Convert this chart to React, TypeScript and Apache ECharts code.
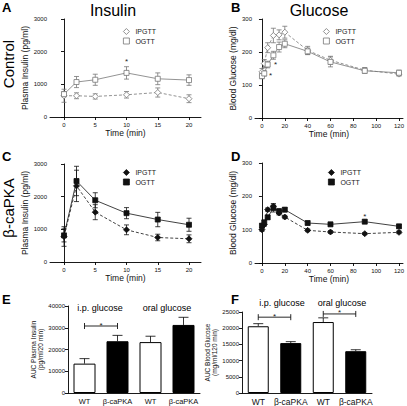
import React, { useEffect, useRef } from "react";
import * as echarts from "echarts";

const insulinTimes = [0, 2, 5, 10, 15, 20];
const glucoseTimes = [0, 2, 5, 10, 15, 20, 40, 60, 90, 120];
const insulinTicks = [0, 5, 10, 15, 20];
const glucoseTicks = [0, 20, 40, 60, 80, 100, 120];

const ctrlInsIP = [650, 650, 630, 680, 750, 560];
const ctrlInsIPErr = [200, 90, 80, 100, 140, 120];
const ctrlInsOG = [700, 1070, 1140, 1350, 1170, 1130];
const ctrlInsOGErr = [80, 170, 170, 190, 180, 160];

const ctrlGluIP = [140, 165, 213, 250, 252, 260, 205, 175, 145, 133];
const ctrlGluIPErr = [10, 12, 15, 22, 15, 18, 12, 12, 8, 6];
const ctrlGluOG = [127, 135, 162, 190, 215, 225, 202, 170, 143, 137];
const ctrlGluOGErr = [8, 8, 10, 12, 15, 12, 10, 15, 8, 8];

const pkaInsIP = [780, 2330, 1525, 985, 750, 710];
const pkaInsIPErr = [300, 480, 230, 150, 100, 120];
const pkaInsOG = [815, 2480, 1890, 1495, 1300, 1140];
const pkaInsOGErr = [200, 450, 230, 170, 220, 200];

const pkaGluIP = [100, 115, 160, 170, 150, 138, 98, 93, 88, 92];
const pkaGluIPErr = [5, 5, 5, 8, 6, 5, 4, 4, 3, 4];
const pkaGluOG = [112, 122, 137, 165, 155, 160, 120, 116, 124, 110];
const pkaGluOGErr = [6, 6, 6, 12, 8, 6, 5, 5, 5, 5];

const barCategories = ["WT", "β-caPKA", "WT", "β-caPKA"];
const groupLabels = ["i.p. glucose", "oral glucose"];
const aucInsulin = [13500, 23800, 23400, 31300];
const aucInsulinErr = [2300, 2700, 2700, 3500];
const aucGlucose = [20600, 15400, 21900, 12900];
const aucGlucoseErr = [800, 450, 1300, 450];

// significance asterisks on line panels: [x, y]
const starsA = [[10, 1700]];
const starsB = [[7.5, 128], [12, 162]];
const starsD = [[90, 140]];
// brackets [fromIndex, toIndex, y]
const bracketsE = [[0, 1, 30800]];
const bracketsF = [[0, 1, 23400], [2, 3, 24400]];

const FONT = "'Liberation Sans', Arial, Helvetica, sans-serif";
const GRAY = "#777";
const BLACK = "#111";

function errRender(color: string, capW: number) {
  return (params: any, api: any) => {
    const x = api.value(0);
    const lo = api.value(1);
    const hi = api.value(2);
    const lowCap = api.value(3);
    const a = api.coord([x, lo]);
    const b = api.coord([x, hi]);
    const style = { stroke: color, lineWidth: 0.8, fill: "none" };
    const children: any[] = [
      { type: "line", shape: { x1: a[0], y1: a[1], x2: b[0], y2: b[1] }, style },
      { type: "line", shape: { x1: b[0] - capW, y1: b[1], x2: b[0] + capW, y2: b[1] }, style },
    ];
    if (lowCap) {
      children.push({ type: "line", shape: { x1: a[0] - capW, y1: a[1], x2: a[0] + capW, y2: a[1] }, style });
    }
    return { type: "group", children };
  };
}

function starRender(params: any, api: any) {
  const p = api.coord([api.value(0), api.value(1)]);
  return {
    type: "text",
    style: { text: "*", x: p[0], y: p[1], align: "center", verticalAlign: "middle", fontSize: 8, fill: "#222", fontFamily: FONT },
  };
}

function bracketRender(params: any, api: any) {
  const a = api.coord([api.value(0), api.value(2)]);
  const b = api.coord([api.value(1), api.value(2)]);
  const style = { stroke: "#111", lineWidth: 0.9 };
  return {
    type: "group",
    children: [
      { type: "line", shape: { x1: a[0], y1: a[1], x2: b[0], y2: b[1] }, style },
      { type: "line", shape: { x1: a[0], y1: a[1] - 3, x2: a[0], y2: a[1] + 3 }, style },
      { type: "line", shape: { x1: b[0], y1: b[1] - 3, x2: b[0], y2: b[1] + 3 }, style },
      {
        type: "text",
        style: { text: "*", x: (a[0] + b[0]) / 2, y: a[1] + 3, align: "center", verticalAlign: "bottom", fontSize: 8, fill: "#222", fontFamily: FONT },
      },
    ],
  };
}

function lineSeries(grid: number, times: number[], ip: number[], ipErr: number[], og: number[], ogErr: number[], color: string, filled: boolean) {
  const fill = filled ? color : "#fff";
  const common = {
    type: "line",
    xAxisIndex: grid,
    yAxisIndex: grid,
    z: 3,
    symbolKeepAspect: true,
  };
  return [
    {
      type: "custom",
      xAxisIndex: grid,
      yAxisIndex: grid,
      z: 1,
      renderItem: errRender(color, 2.5),
      encode: { x: 0, y: [1, 2] },
      data: times.map((t, i) => [t, ip[i] - ipErr[i], ip[i] + ipErr[i], 1]),
    },
    {
      type: "custom",
      xAxisIndex: grid,
      yAxisIndex: grid,
      z: 1,
      renderItem: errRender(color, 2.5),
      encode: { x: 0, y: [1, 2] },
      data: times.map((t, i) => [t, og[i] - ogErr[i], og[i] + ogErr[i], 1]),
    },
    {
      ...common,
      name: "IPGTT",
      symbol: "diamond",
      symbolSize: 6,
      lineStyle: { color, width: 0.8, type: [3, 2] },
      itemStyle: { color: fill, borderColor: color, borderWidth: 0.8 },
      data: times.map((t, i) => [t, ip[i]]),
    },
    {
      ...common,
      name: "OGTT",
      symbol: "rect",
      symbolSize: 5,
      lineStyle: { color, width: 0.8 },
      itemStyle: { color: fill, borderColor: color, borderWidth: 0.8 },
      data: times.map((t, i) => [t, og[i]]),
    },
  ];
}

function barSeries(grid: number, vals: number[], errs: number[], width: number) {
  return [
    {
      type: "bar",
      xAxisIndex: grid,
      yAxisIndex: grid,
      barWidth: width,
      z: 2,
      data: vals.map((v, i) => ({
        value: v,
        itemStyle: { color: i % 2 === 0 ? "#fff" : "#000", borderColor: "#000", borderWidth: 1 },
      })),
    },
    {
      type: "custom",
      xAxisIndex: grid,
      yAxisIndex: grid,
      z: 1,
      renderItem: errRender("#000", 5),
      encode: { x: 0, y: [1, 2] },
      data: vals.map((v, i) => [i, v, v + errs[i], 0]),
    },
  ];
}

const axisLineStyle = { lineStyle: { color: "#000", width: 0.9 } };
const tickStyle = { show: true, length: 3, lineStyle: { color: "#000", width: 0.9 } };
const tickLabel = { fontSize: 6, color: "#111", fontFamily: FONT, margin: 3 };

function timeAxis(grid: number, min: number, max: number, ticks: number[], gap: number) {
  return {
    type: "value",
    gridIndex: grid,
    min,
    max,
    name: "Time (min)",
    nameLocation: "middle",
    nameGap: gap,
    nameTextStyle: { fontSize: 8.5, color: "#111", fontFamily: FONT },
    axisLine: { show: true, onZero: false, ...axisLineStyle },
    axisTick: { ...tickStyle, customValues: ticks },
    axisLabel: { ...tickLabel, margin: 5, customValues: ticks },
    splitLine: { show: false },
  };
}

function valAxis(grid: number, max: number, interval: number, name: string, gap: number, nameSize: number, lineHeight?: number) {
  return {
    type: "value",
    gridIndex: grid,
    min: 0,
    max,
    interval,
    name,
    nameLocation: "middle",
    nameGap: gap,
    nameTextStyle: { fontSize: nameSize, color: "#111", fontFamily: FONT, lineHeight: lineHeight || nameSize * 1.2 },
    axisLine: { show: true, ...axisLineStyle },
    axisTick: tickStyle,
    axisLabel: { ...tickLabel, formatter: (v: number) => String(v) },
    splitLine: { show: false },
  };
}

function catAxis(grid: number, fontSize: number) {
  return {
    type: "category",
    gridIndex: grid,
    data: barCategories,
    axisLine: { show: true, ...axisLineStyle },
    axisTick: { show: false },
    axisLabel: { fontSize, color: "#111", fontFamily: FONT, margin: 4, interval: 0 },
  };
}

function legendAt(left: number, top: number, color: string, filled: boolean) {
  const fill = filled ? color : "#fff";
  return {
    left,
    top,
    orient: "vertical",
    padding: 0,
    itemWidth: 6,
    itemHeight: 6,
    itemGap: 2.5,
    selectedMode: false,
    textStyle: { fontSize: 7, color: "#222", fontFamily: FONT, padding: [0, 0, 0, 1] },
    data: [
      { name: "IPGTT", icon: "diamond", itemStyle: { color: fill, borderColor: color, borderWidth: 0.8 } },
      { name: "OGTT", icon: "rect", itemStyle: { color: fill, borderColor: color, borderWidth: 0.8 } },
    ],
  };
}

function txt(text: string, x: number, y: number, size: number, opts: any = {}) {
  return {
    type: "text",
    x,
    y,
    rotation: opts.rotation || 0,
    style: {
      text,
      fontSize: size,
      fontWeight: opts.bold ? "bold" : "normal",
      fontFamily: FONT,
      fill: "#000",
      align: opts.align || "center",
      verticalAlign: "middle",
    },
  };
}

export default function App() {
  const ref = useRef<HTMLDivElement>(null);
  useEffect(() => {
    document.body.style.margin = "0";
    const chart = echarts.init(ref.current!, undefined, { renderer: "svg" });
    const option: any = {
      animation: false,
      backgroundColor: "#fff",
      textStyle: { fontFamily: FONT },
      grid: [
        { left: 50, top: 19, width: 151, height: 98 },
        { left: 255, top: 19, width: 148, height: 99 },
        { left: 50, top: 164, width: 151, height: 98 },
        { left: 255, top: 163, width: 148, height: 100 },
        { left: 68, top: 306, width: 132, height: 87 },
        { left: 242, top: 312, width: 130, height: 81 },
      ],
      xAxis: [
        timeAxis(0, -2.24, 21.92, insulinTicks, 11),
        timeAxis(1, -6.1, 123.5, glucoseTicks, 10),
        timeAxis(2, -2.24, 21.92, insulinTicks, 10),
        timeAxis(3, -6.1, 123.5, glucoseTicks, 10),
        catAxis(4, 7.5),
        catAxis(5, 8.5),
      ],
      yAxis: [
        valAxis(0, 3000, 1000, "Plasma Insulin (pg/ml)", 13, 8.5),
        valAxis(1, 300, 100, "Blood Glucose (mg/dl)", 15, 8.5),
        valAxis(2, 3000, 1000, "Plasma Insulin (pg/ml)", 13, 8.5),
        valAxis(3, 300, 100, "Blood Glucose (mg/dl)", 15, 8.5),
        valAxis(4, 40000, 10000, "AUC Plasma Insulin\n(pg/ml/20 min)", 22, 6.5, 7),
        valAxis(5, 25000, 5000, "AUC Blood Glucose\n(mg/ml/120 min)", 22, 6.5, 7),
      ],
      legend: [
        legendAt(123, 28, GRAY, false),
        legendAt(323, 28, GRAY, false),
        legendAt(123, 169, BLACK, true),
        legendAt(328, 169, BLACK, true),
      ],
      series: [
        ...lineSeries(0, insulinTimes, ctrlInsIP, ctrlInsIPErr, ctrlInsOG, ctrlInsOGErr, GRAY, false),
        ...lineSeries(1, glucoseTimes, ctrlGluIP, ctrlGluIPErr, ctrlGluOG, ctrlGluOGErr, GRAY, false),
        ...lineSeries(2, insulinTimes, pkaInsIP, pkaInsIPErr, pkaInsOG, pkaInsOGErr, BLACK, true),
        ...lineSeries(3, glucoseTimes, pkaGluIP, pkaGluIPErr, pkaGluOG, pkaGluOGErr, BLACK, true),
        ...barSeries(4, aucInsulin, aucInsulinErr, 22),
        ...barSeries(5, aucGlucose, aucGlucoseErr, 21),
        { type: "custom", xAxisIndex: 0, yAxisIndex: 0, z: 4, renderItem: starRender, data: starsA },
        { type: "custom", xAxisIndex: 1, yAxisIndex: 1, z: 4, renderItem: starRender, data: starsB },
        { type: "custom", xAxisIndex: 3, yAxisIndex: 3, z: 4, renderItem: starRender, data: starsD },
        { type: "custom", xAxisIndex: 4, yAxisIndex: 4, z: 4, renderItem: bracketRender, data: bracketsE },
        { type: "custom", xAxisIndex: 5, yAxisIndex: 5, z: 4, renderItem: bracketRender, data: bracketsF },
      ],
      graphic: [
        txt("A", 2, 7, 13, { bold: true, align: "left" }),
        txt("B", 231, 7, 13, { bold: true, align: "left" }),
        txt("C", 2, 156, 13, { bold: true, align: "left" }),
        txt("D", 231, 156, 13, { bold: true, align: "left" }),
        txt("E", 2, 299, 13, { bold: true, align: "left" }),
        txt("F", 231, 299, 13, { bold: true, align: "left" }),
        txt("Insulin", 113, 10, 16),
        txt("Glucose", 319, 10, 16),
        txt("Control", 8, 64, 15, { rotation: Math.PI / 2 }),
        txt("β-caPKA", 8, 208, 15, { rotation: Math.PI / 2 }),
        txt(groupLabels[0], 100, 308, 9),
        txt(groupLabels[1], 167, 308, 9),
        txt(groupLabels[0], 282, 303, 9),
        txt(groupLabels[1], 342, 303, 9),
      ],
    };
    chart.setOption(option);
    return () => chart.dispose();
  }, []);
  return <div ref={ref} style={{ width: 407, height: 406 }} />;
}
